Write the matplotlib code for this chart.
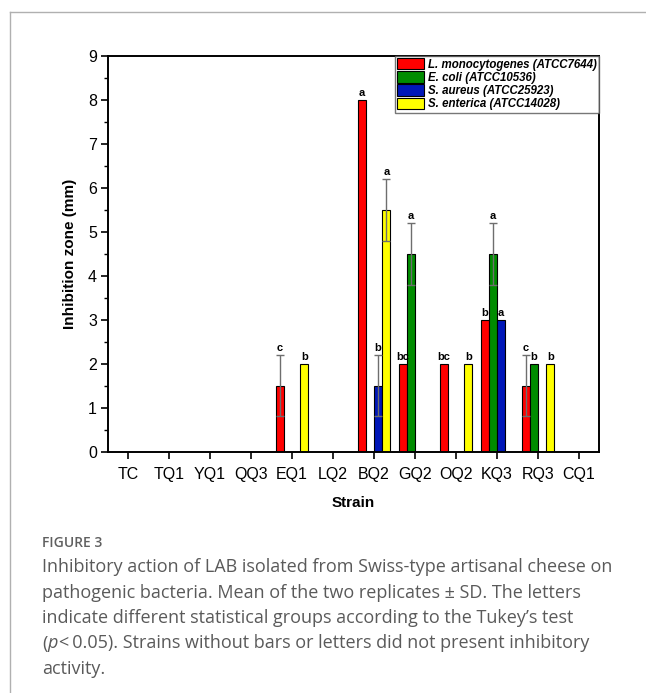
import numpy as np
import matplotlib
matplotlib.use("Agg")
import matplotlib.pyplot as plt
from matplotlib.patches import Patch
from matplotlib.lines import Line2D
from matplotlib.ticker import MultipleLocator

strains = ["TC", "TQ1", "YQ1", "QQ3", "EQ1", "LQ2", "BQ2", "GQ2", "OQ2", "KQ3", "RQ3", "CQ1"]
series_names = ["L. monocytogenes (ATCC7644)", "E. coli (ATCC10536)",
                "S. aureus (ATCC25923)", "S. enterica (ATCC14028)"]
colors = ["#ff0000", "#008c00", "#0017b8", "#ffff00"]

listeria = [0, 0, 0, 0, 1.5, 0, 8.0, 2.0, 2.0, 3.0, 1.5, 0]
ecoli = [0, 0, 0, 0, 0, 0, 0, 4.5, 0, 4.5, 2.0, 0]
saureus = [0, 0, 0, 0, 0, 0, 1.5, 0, 0, 3.0, 0, 0]
senterica = [0, 0, 0, 0, 2.0, 0, 5.5, 0, 2.0, 0, 2.0, 0]

listeria_sd = [0, 0, 0, 0, 0.7, 0, 0, 0, 0, 0, 0.7, 0]
ecoli_sd = [0, 0, 0, 0, 0, 0, 0, 0.7, 0, 0.7, 0, 0]
saureus_sd = [0, 0, 0, 0, 0, 0, 0.7, 0, 0, 0, 0, 0]
senterica_sd = [0, 0, 0, 0, 0, 0, 0.7, 0, 0, 0, 0, 0]

listeria_let = ["", "", "", "", "c", "", "a", "bc", "bc", "b", "c", ""]
ecoli_let = ["", "", "", "", "", "", "", "a", "", "a", "b", ""]
saureus_let = ["", "", "", "", "", "", "b", "", "", "a", "", ""]
senterica_let = ["", "", "", "", "b", "", "a", "", "b", "", "b", ""]

values = [listeria, ecoli, saureus, senterica]
sds = [listeria_sd, ecoli_sd, saureus_sd, senterica_sd]
letters = [listeria_let, ecoli_let, saureus_let, senterica_let]

fig = plt.figure(figsize=(6.46, 6.93), dpi=100)
ax = fig.add_axes([0.1672, 0.3482, 0.760, 0.5714])

# page frame lines (left + top)
fig.add_artist(Line2D([10/646, 10/646], [0, 1 - 12/693], color="#b0b0b0", lw=1.0))
fig.add_artist(Line2D([10/646, 1], [1 - 12/693, 1 - 12/693], color="#b0b0b0", lw=1.0))

x = np.arange(len(strains))
w = 0.2
for k, (vals, sd, lets) in enumerate(zip(values, sds, letters)):
    pos = x + (k - 1.5) * w
    vals = np.array(vals, dtype=float)
    sd = np.array(sd, dtype=float)
    m = vals > 0
    ax.bar(pos[m], vals[m], width=w, color=colors[k], edgecolor="black", linewidth=0.8, zorder=2)
    e = sd > 0
    if e.any():
        ax.errorbar(pos[e], vals[e], yerr=sd[e], fmt="none", ecolor="#6e6e6e",
                    elinewidth=1.0, capsize=3, capthick=1.0, zorder=3)
    for i in range(len(strains)):
        if lets[i]:
            ax.annotate(lets[i], (pos[i], vals[i] + sd[i]), xytext=(0, 1.5),
                        textcoords="offset points", ha="center", va="bottom",
                        fontsize=8, fontweight="bold", family="Liberation Sans")

ax.set_xlim(-0.49, 11.49)
ax.set_ylim(0, 9)
ax.set_xticks(x)
ax.set_xticklabels(strains, family="Liberation Sans", fontsize=11.5)
ax.yaxis.set_major_locator(MultipleLocator(1))
ax.yaxis.set_minor_locator(MultipleLocator(0.5))
for lab in ax.get_yticklabels():
    lab.set_family("Liberation Sans")
    lab.set_fontsize(11.5)
ax.tick_params(axis="both", which="major", direction="out", length=5, width=1.2, pad=3)
ax.tick_params(axis="y", which="minor", direction="out", length=3, width=1.0)
ax.tick_params(axis="x", pad=6)
for s in ax.spines.values():
    s.set_linewidth(1.4)

ax.set_xlabel("Strain", family="Liberation Sans", fontsize=11, fontweight="bold", labelpad=10)
ax.set_ylabel("Inhibition zone (mm)", family="Liberation Sans", fontsize=11, fontweight="bold", labelpad=8)

handles = [Patch(facecolor=c, edgecolor="black", linewidth=0.8) for c in colors]
leg = ax.legend(handles, series_names, loc="upper right", bbox_to_anchor=(1.0, 1.0),
                frameon=True, fancybox=False, borderaxespad=0, handlelength=2.3,
                handleheight=1.15, handletextpad=0.35, labelspacing=0.05, borderpad=0.2,
                prop={"family": "Liberation Sans", "style": "italic", "weight": "bold", "size": 8.3})
leg.get_frame().set_edgecolor("#555555")
leg.get_frame().set_linewidth(1.0)

# caption
cap_font = "Open Sans"
cap_size = 13
cap_col = "#5a5a5a"
fig.text(42/646, 1 - 543/693, "FIGURE 3", family=cap_font, fontsize=10, color="#606060",
         va="center", ha="left", fontweight="semibold")
lines = [
    "Inhibitory action of LAB isolated from Swiss-type artisanal cheese on",
    "pathogenic bacteria. Mean of the two replicates \u00b1 SD. The letters",
    "indicate different statistical groups according to the Tukey\u2019s test",
]
ys = [567, 592.5, 618, 643.5, 669]
for ln, yy in zip(lines, ys):
    fig.text(42/646, 1 - yy/693, ln, family=cap_font, fontsize=cap_size, color=cap_col,
             va="center", ha="left")

fig.canvas.draw()
r = fig.canvas.get_renderer()
yy = 1 - ys[3]/693
t1 = fig.text(42/646, yy, "(", family=cap_font, fontsize=cap_size, color=cap_col, va="center")
bb = t1.get_window_extent(r)
t2 = fig.text(bb.x1/646, yy, "p", family=cap_font, fontsize=cap_size, color=cap_col,
              va="center", style="italic")
bb = t2.get_window_extent(r)
fig.text(bb.x1/646 + 0.002, yy, "<\u20090.05). Strains without bars or letters did not present inhibitory",
         family=["Open Sans", "DejaVu Sans"], fontsize=cap_size, color=cap_col, va="center")
fig.text(42/646, 1 - ys[4]/693, "activity.", family=cap_font, fontsize=cap_size, color=cap_col,
         va="center", ha="left")

fig.savefig("out.png", dpi=100)
